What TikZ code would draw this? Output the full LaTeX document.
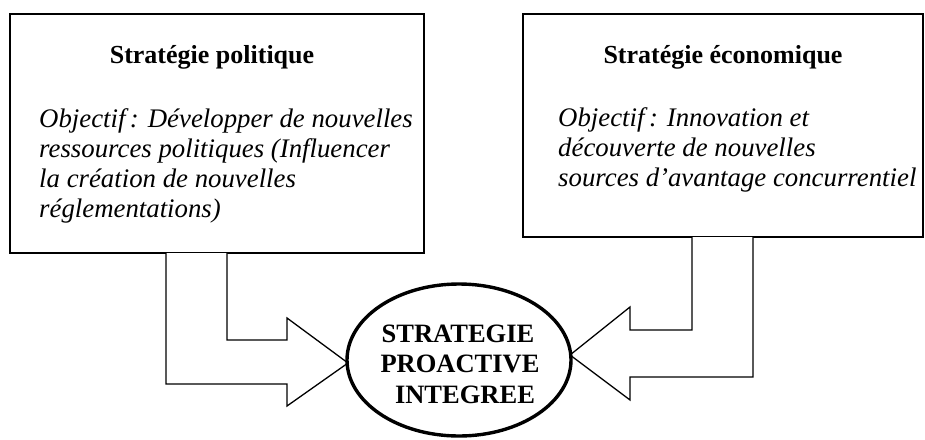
\documentclass[tikz,border=0pt]{standalone}
\usepackage{fontspec}
\setmainfont{Liberation Serif}
\usetikzlibrary{shapes.geometric}
\begin{document}
\begin{tikzpicture}[x=1pt,y=-1pt,
  boxst/.style={draw=black,line width=1.7pt,inner sep=0pt},
  arrowst/.style={draw=black,line width=1.3pt,line join=miter,fill=white},
  titlest/.style={font=\fontsize{26}{30}\selectfont\bfseries,anchor=base,inner sep=0pt},
  bodyst/.style={font=\fontsize{26.8}{30}\selectfont\itshape,anchor=base west,align=left,inner sep=0pt},
  ellst/.style={draw=black,line width=3.4pt,ellipse,minimum width=224pt,minimum height=152pt,inner sep=0pt},
  elltext/.style={font=\fontsize{26.5}{30.5}\selectfont\bfseries,anchor=base,inner sep=0pt}]
\useasboundingbox (0,0) rectangle (925,439);
% boxes
\node[boxst,minimum width=414pt,minimum height=239pt] (lbox) at (217,133.5) {};
\node[boxst,minimum width=400pt,minimum height=223pt] (rbox) at (723,125.5) {};
% texts
\node[titlest] (ltitle) at (212,63) {Stratégie politique};
\node[bodyst] (lbody) at (39,217) {Objectif\,: Développer de nouvelles\\ressources politiques (Influencer\\la création de nouvelles\\réglementations)};
\node[titlest] (rtitle) at (723,63) {Stratégie économique};
\node[bodyst] (rbody) at (558,186) {Objectif\,: Innovation et\\découverte de nouvelles\\sources d’avantage concurrentiel};
% arrows
\coordinate (la1) at (166,253);
\coordinate (la2) at (227,253);
\coordinate (ltip) at (348,363);
\coordinate (ra1) at (753,237);
\coordinate (ra2) at (692,237);
\coordinate (rtip) at (570,355);
\draw[arrowst] (la2) -- (227,340) -- (287,340) -- (287,318) -- (ltip) -- (287,406) -- (287,384) -- (166,384) -- (la1);
\draw[arrowst] (ra2) -- (692,330) -- (630,330) -- (630,307) -- (rtip) -- (630,400) -- (630,377) -- (753,377) -- (ra1);
% ellipse
\node[ellst] (ell) at (459,360) {};
\node[elltext] (e1) at (458,342) {STRATEGIE};
\node[elltext] (e2) at (460,372) {PROACTIVE};
\node[elltext] (e3) at (465,403) {INTEGREE};
\end{tikzpicture}
\end{document}
